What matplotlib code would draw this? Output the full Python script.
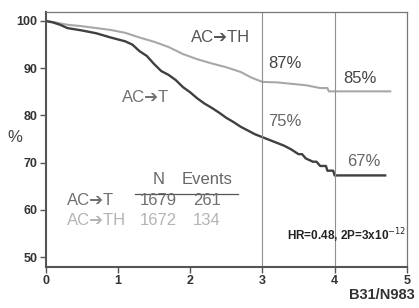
import matplotlib
matplotlib.use("Agg")
import matplotlib.pyplot as plt

plt.rcParams['font.family'] = ['Liberation Sans', 'DejaVu Sans']

# Kaplan-Meier style curves
t_th = [0, 0.1, 0.3, 0.5, 0.7, 0.9, 1.1, 1.3, 1.5, 1.7, 1.9, 2.1, 2.3, 2.5,
        2.7, 2.85, 3.0, 3.2, 3.4, 3.6, 3.8, 3.9, 3.92, 4.77]
s_th = [100, 99.8, 99.2, 98.9, 98.5, 98.1, 97.5, 96.5, 95.6, 94.5, 93.0, 91.9,
        91.0, 90.2, 89.2, 88.0, 87.1, 87.0, 86.7, 86.4, 85.8, 85.8, 85.1, 85.1]

t_t = [0, 0.1, 0.2, 0.3, 0.5, 0.7, 0.9, 1.1, 1.2, 1.3, 1.4, 1.5, 1.6, 1.7,
       1.8, 1.9, 2.0, 2.1, 2.2, 2.3, 2.4, 2.5, 2.6, 2.7, 2.8, 2.9, 3.0, 3.1,
       3.2, 3.3, 3.4, 3.5, 3.55, 3.6, 3.7, 3.75, 3.8, 3.88, 3.9, 3.98, 4.0, 4.7]
s_t = [100, 99.7, 99.2, 98.5, 98.0, 97.4, 96.5, 95.7, 95.0, 93.6, 92.6, 90.9,
       89.4, 88.6, 87.5, 86.0, 84.9, 83.6, 82.5, 81.6, 80.6, 79.5, 78.6, 77.6,
       76.8, 76.0, 75.4, 74.8, 74.2, 73.6, 72.8, 71.8, 71.8, 70.9, 70.2, 70.2,
       69.3, 69.3, 68.3, 68.3, 67.3, 67.3]

xticks = [0, 1, 2, 3, 4, 5]
yticks = [50, 60, 70, 80, 90, 100]
marks = [3, 4]
groups = ['AC\u2794T', 'AC\u2794TH']
n_pat = [1679, 1672]
events = [261, 134]

DARK = '#404040'
LIGHT = '#a8a8a8'

fig = plt.figure(figsize=(4.19, 3.08), dpi=100)
ax = fig.add_axes([0.109, 0.133, 0.862, 0.828])

ax.plot(t_th, s_th, color=LIGHT, lw=1.5)
ax.plot(t_t, s_t, color=DARK, lw=1.7)

for m in marks:
    ax.axvline(m, color='#909090', lw=0.8)

ax.set_xlim(0, 5)
ax.set_ylim(47.9, 101.9)
ax.set_xticks(xticks)
ax.set_yticks(yticks)
ax.tick_params(direction='out', length=4, width=1, color='#555555',
               labelsize=9, pad=2)
for lab in ax.get_xticklabels() + ax.get_yticklabels():
    lab.set_fontweight('bold')
    lab.set_color('#333333')
for s in ['left', 'bottom']:
    ax.spines[s].set_color('#555555')
    ax.spines[s].set_linewidth(1.5)
for s in ['top', 'right']:
    ax.spines[s].set_color('#777777')
    ax.spines[s].set_linewidth(0.9)

ax.set_ylabel('%', rotation=0, fontsize=12, color='#444444')
ax.yaxis.set_label_coords(-0.085, 0.48)

# curve labels
ax.text(2.01, 96.4, groups[1], fontsize=12, color='#555555', va='center')
ax.text(1.06, 83.9, groups[0], fontsize=12, color='#707070', va='center')
ax.text(3.08, 90.9, '87%', fontsize=12, color='#444444', va='center')
ax.text(4.12, 87.9, '85%', fontsize=12, color='#444444', va='center')
ax.text(3.08, 78.8, '75%', fontsize=12, color='#666666', va='center')
ax.text(4.18, 70.3, '67%', fontsize=12, color='#666666', va='center')

# N / Events table
ax.text(1.56, 66.4, 'N', fontsize=12, color='#666666', ha='center', va='center')
ax.text(2.23, 66.4, 'Events', fontsize=12, color='#666666', ha='center', va='center')
ax.plot([1.24, 2.66], [63.4, 63.4], color='#555555', lw=0.9)
row_y = [61.9, 57.8]
row_c = ['#707070', '#b4b4b4']
for g, n, e, y, c in zip(groups, n_pat, events, row_y, row_c):
    ax.text(0.3, y, g, fontsize=12, color=c, va='center')
    ax.text(1.56, y, str(n), fontsize=12, color=c, ha='center', va='center')
    ax.text(2.23, y, str(e), fontsize=12, color=c, ha='center', va='center')

ax.text(4.99, 54.5, 'HR=0.48, 2P=3x10$^{-12}$', fontsize=8.5, fontweight='bold',
        color='#222222', ha='right', va='center')
fig.text(0.99, 0.02, 'B31/N983', fontsize=10.5, fontweight='bold',
         color='#333333', ha='right', va='bottom')

fig.savefig('out.png', dpi=100)
